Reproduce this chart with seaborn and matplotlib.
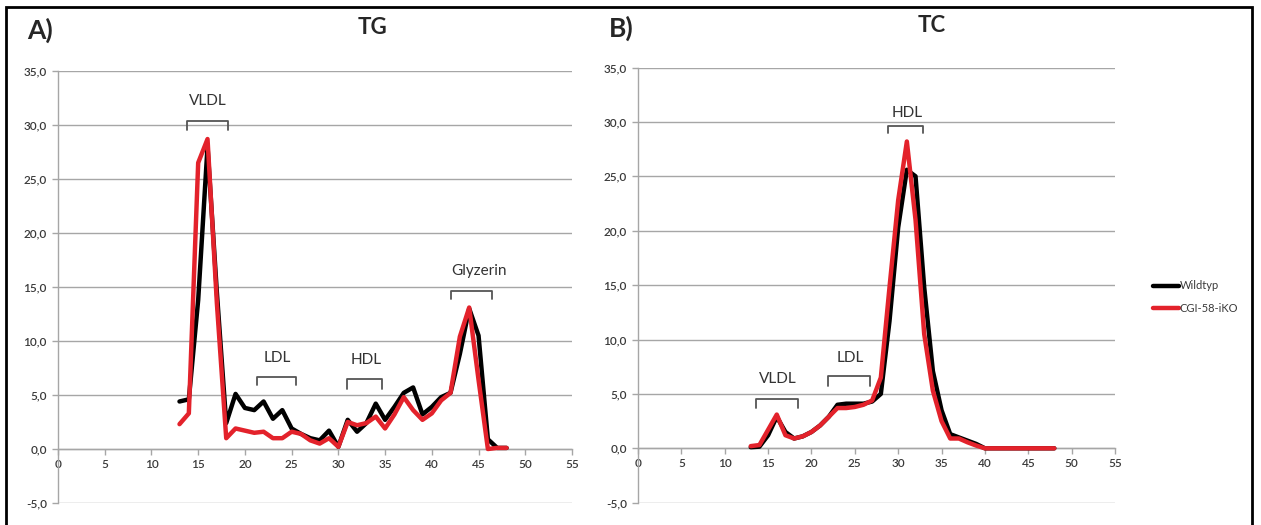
import numpy as np
import pandas as pd
import matplotlib
matplotlib.use("Agg")
import matplotlib.pyplot as plt
from matplotlib.lines import Line2D
import seaborn as sns

# ---------------- data ----------------
fractions = list(range(13, 49))

tg_wildtyp = [4.4, 4.6, 13.8, 28.0, 14.5, 2.4, 5.1, 3.8, 3.6, 4.4, 2.8, 3.6, 1.9, 1.4, 1.0, 0.8,
              1.7, 0.2, 2.7, 1.6, 2.4, 4.2, 2.7, 3.9, 5.2, 5.7, 3.2, 3.9, 4.8, 5.2, 8.8, 13.0,
              10.5, 0.9, 0.1, 0.1]
tg_iko = [2.3, 3.3, 26.5, 28.7, 13.5, 1.0, 1.9, 1.7, 1.5, 1.6, 1.0, 1.0, 1.6, 1.4, 0.8, 0.5,
          1.0, 0.2, 2.5, 2.2, 2.4, 3.0, 1.9, 3.2, 4.8, 3.6, 2.7, 3.3, 4.5, 5.2, 10.4, 13.1,
          6.4, 0.0, 0.1, 0.1]

tc_wildtyp = [0.1, 0.15, 1.2, 2.9, 1.5, 0.9, 1.1, 1.5, 2.1, 2.9, 4.0, 4.1, 4.1, 4.1, 4.3, 5.0,
              11.7, 20.3, 25.6, 25.0, 14.8, 7.1, 3.5, 1.3, 1.0, 0.7, 0.4, 0.0, 0.0, 0.0, 0.0, 0.0,
              0.0, 0.0, 0.0, 0.0]
tc_iko = [0.2, 0.3, 1.7, 3.1, 1.2, 0.9, 1.1, 1.5, 2.1, 2.9, 3.7, 3.7, 3.8, 4.0, 4.4, 6.5,
          14.8, 22.8, 28.2, 21.0, 10.5, 5.3, 2.5, 0.9, 0.9, 0.55, 0.25, 0.0, 0.0, 0.0, 0.0, 0.0,
          0.0, 0.0, 0.0, 0.0]

groups = ["Wildtyp", "CGI-58-iKO"]
panel_titles = ["TG", "TC"]
panel_letters = ["A)", "B)"]
x_ticks = list(range(0, 60, 5))
y_ticks = list(range(-5, 40, 5))

# bracket annotations: (label, x_left, x_right, y_top, y_hook, text_x, text_y)
tg_brackets = [("VLDL", 13.8, 18.2, 30.4, 29.5, 16.0, 32.2),
               ("LDL", 21.3, 25.5, 6.7, 5.9, 23.5, 8.4),
               ("HDL", 30.9, 34.7, 6.45, 5.6, 33.0, 8.2),
               ("Glyzerin", 42.0, 46.4, 14.65, 13.9, 45.0, 16.5)]
tc_brackets = [("VLDL", 13.6, 18.4, 4.5, 3.7, 16.1, 6.4),
               ("LDL", 21.95, 26.75, 6.6, 5.7, 24.45, 8.3),
               ("HDL", 28.85, 32.9, 29.6, 28.95, 31.0, 30.8)]


def make_df(wt, ko):
    return pd.DataFrame({
        "Fraktion": fractions * 2,
        "Wert": wt + ko,
        "Gruppe": [groups[0]] * len(fractions) + [groups[1]] * len(fractions),
    })


# ---------------- style ----------------
sns.set_theme(style="white")
plt.rcParams["font.family"] = ["Lato", "DejaVu Sans"]

W, H = 1261, 525
fig = plt.figure(figsize=(W / 100, H / 100), dpi=100)

palette = {"Wildtyp": "#000000", "CGI-58-iKO": "#E3222B"}
grid_col = "#A6A6A6"
text_col = "#3A3A3A"

axA = fig.add_axes([58 / W, 1 - 503 / H, (572 - 58) / W, (503 - 71) / H])
axB = fig.add_axes([638 / W, 1 - 502.7 / H, (1115 - 638) / W, (502.7 - 67.5) / H])

panels = [(axA, make_df(tg_wildtyp, tg_iko), tg_brackets),
          (axB, make_df(tc_wildtyp, tc_iko), tc_brackets)]

for ax, df, brackets in panels:
    sns.lineplot(data=df, x="Fraktion", y="Wert", hue="Gruppe", hue_order=groups,
                 palette=palette, linewidth=3.2, legend=False, ax=ax,
                 solid_joinstyle="round", solid_capstyle="round", zorder=3)
    ax.set_xlim(0, 55)
    ax.set_ylim(-5, 35)
    ax.set_xticks(x_ticks)
    ax.set_xticklabels([str(t) for t in x_ticks])
    ax.set_yticks(y_ticks)
    ax.set_yticklabels([f"{t:.1f}".replace(".", ",") for t in y_ticks])
    ax.set_xlabel("")
    ax.set_ylabel("")
    ax.yaxis.grid(True, color=grid_col, linewidth=1.0)
    ax.xaxis.grid(False)
    for s in ["top", "right"]:
        ax.spines[s].set_visible(False)
    ax.spines["bottom"].set_position(("data", 0))
    ax.spines["bottom"].set_color(grid_col)
    ax.spines["left"].set_color(grid_col)
    ax.spines["bottom"].set_linewidth(1.0)
    ax.spines["left"].set_linewidth(1.0)
    ax.set_facecolor("none")
    ax.tick_params(axis="both", which="both", direction="out", length=4, width=1,
                   color=grid_col, labelsize=8.5, labelcolor=text_col, pad=4)
    ax.tick_params(axis="x", bottom=True, pad=3)
    ax.tick_params(axis="y", left=True)
    for lab in ax.get_xticklabels() + ax.get_yticklabels():
        lab.set_fontweight("semibold")
    for lab, x0, x1, yt, yh, tx, ty in brackets:
        ax.plot([x0, x0, x1, x1], [yh, yt, yt, yh], color="#555555", linewidth=1.3,
                solid_joinstyle="round", zorder=2)
        ax.text(tx, ty, lab, ha="center", va="center", fontsize=11, color="#333333")

# titles
fig.text(372 / W, 1 - 27 / H, "TG", ha="center", va="center", fontsize=16, fontweight="bold")
fig.text(932 / W, 1 - 25 / H, "TC", ha="center", va="center", fontsize=16, fontweight="bold")
fig.text(27 / W, 1 - 30 / H, "A)", ha="left", va="center", fontsize=19, fontweight="bold")
fig.text(609 / W, 1 - 28 / H, "B)", ha="left", va="center", fontsize=19, fontweight="bold")

# legend
handles = [Line2D([0], [0], color=palette[g], linewidth=3.2) for g in groups]
fig.legend(handles, groups, loc="center left", bbox_to_anchor=(1143 / W, 1 - 297 / H),
           frameon=False, fontsize=8, handlelength=2.3, handletextpad=0.1,
           labelspacing=1.0, labelcolor=text_col)

# outer frame (left, top, right; image is cropped at the bottom)
xl, xr, yt = 6 / W, 1252 / W, 1 - 7 / H
fig.add_artist(Line2D([xl, xl, xr, xr], [0, yt, yt, 0], transform=fig.transFigure,
                      color="black", linewidth=2, solid_joinstyle="miter"))

fig.savefig("out.png", dpi=100)
